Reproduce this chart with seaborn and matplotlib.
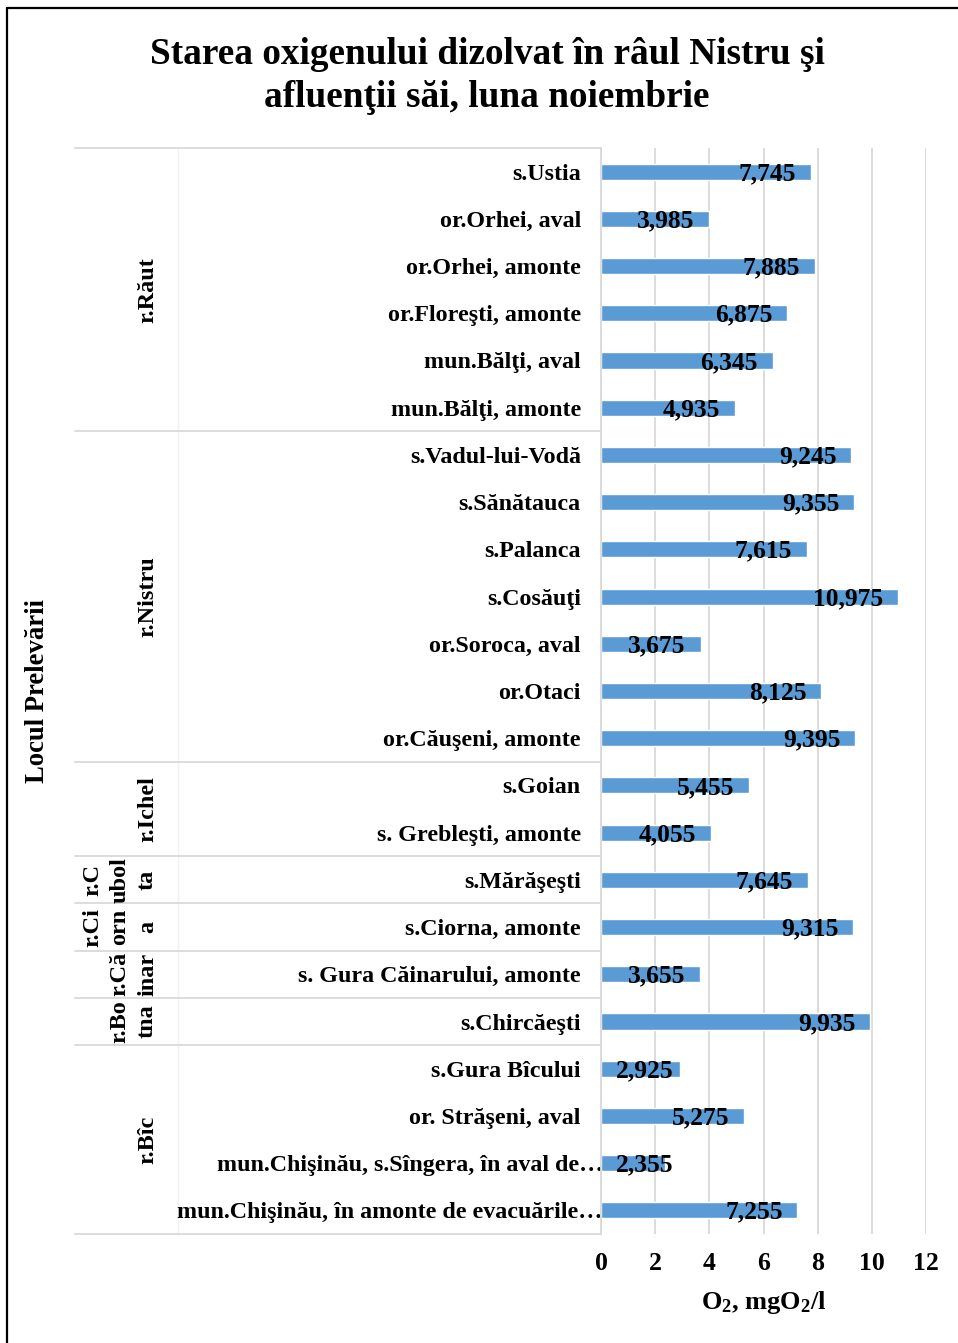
"""
Starea oxigenului dizolvat - horizontal bar chart with grouped categories.
"""

import pandas as pd
import seaborn as sns
import matplotlib.pyplot as plt
from matplotlib.transforms import blended_transform_factory, ScaledTranslation

# ---------------------------------------------------------------------------
# Data
# ---------------------------------------------------------------------------
stations = [
    "s.Ustia", "or.Orhei, aval", "or.Orhei, amonte", "or.Floreşti, amonte",
    "mun.Bălţi, aval", "mun.Bălţi, amonte",
    "s.Vadul-lui-Vodă", "s.Sănătauca", "s.Palanca", "s.Cosăuţi",
    "or.Soroca, aval", "or.Otaci", "or.Căuşeni, amonte",
    "s.Goian", "s. Grebleşti, amonte",
    "s.Mărăşeşti",
    "s.Ciorna, amonte",
    "s. Gura Căinarului, amonte",
    "s.Chircăeşti",
    "s.Gura Bîcului", "or. Străşeni, aval",
    "mun.Chişinău, s.Sîngera, în aval de…",
    "mun.Chişinău, în amonte de evacuările…",
]
oxygen = [
    7.745, 3.985, 7.885, 6.875, 6.345, 4.935,
    9.245, 9.355, 7.615, 10.975, 3.675, 8.125, 9.395,
    5.455, 4.055,
    7.645,
    9.315,
    3.655,
    9.935,
    2.925, 5.275, 2.355, 7.255,
]
rivers = ["r.Răut", "r.Nistru", "r.Ichel", "r.C\nubol\nta", "r.Ci\norn\na",
          "r.Că\ninar", "r.Bo\ntna", "r.Bîc"]
river_sizes = [6, 7, 2, 1, 1, 1, 1, 4]

df = pd.DataFrame({"station": stations, "o2": oxygen})

# ---------------------------------------------------------------------------
# Style
# ---------------------------------------------------------------------------
sns.set_style("white")
plt.rcParams["font.family"] = ["Liberation Serif", "DejaVu Serif"]
plt.rcParams["font.weight"] = "bold"
plt.rcParams["text.color"] = "black"
plt.rcParams["axes.labelcolor"] = "black"
plt.rcParams["xtick.color"] = "black"
plt.rcParams["ytick.color"] = "black"
plt.rcParams["mathtext.fontset"] = "custom"
plt.rcParams["mathtext.rm"] = "Liberation Serif:bold"
plt.rcParams["mathtext.bf"] = "Liberation Serif:bold"
plt.rcParams["mathtext.default"] = "bf"

W, H = 958, 1343
fig = plt.figure(figsize=(W / 100, H / 100), dpi=100)
ax = fig.add_axes([601 / W, 1 - 1234 / H, 325 / W, 1086 / H])

sns.barplot(data=df, x="o2", y="station", orient="h", color="#5B9BD5",
            width=0.34, saturation=1, ax=ax)

ax.set_xlim(0, 12)
ax.set_ylim(len(stations) - 0.5, -0.5)
ax.set_xticks(range(0, 13, 2))
ax.grid(True, axis="x", color="#d9d9d9", linewidth=1.3)
ax.set_axisbelow(True)
for side in ["top", "right", "bottom"]:
    ax.spines[side].set_visible(False)
ax.spines["left"].set_color("#d9d9d9")
ax.spines["left"].set_linewidth(1.3)

ax.tick_params(axis="x", length=0, pad=13, labelsize=18.5)
ax.tick_params(axis="y", length=0, pad=14.5, labelsize=17.3)
for lbl in ax.get_xticklabels() + ax.get_yticklabels():
    lbl.set_fontweight("bold")
# truncated labels run up to the axis line, as in Excel
for lbl in ax.get_yticklabels():
    if lbl.get_text().endswith("…"):
        lbl.set_transform(lbl.get_transform() + ScaledTranslation(0.22, 0, fig.dpi_scale_trans))
ax.set_ylabel("")
ax.set_xlabel(r"O$_2$, mgO$_2$/l", fontsize=19, fontweight="bold", labelpad=10)

# --- value labels (inside end) ---
for i, v in enumerate(oxygen):
    xpos = max(v - 0.55, 2.68)
    ax.text(xpos, i + 0.04, f"{v:.3f}".replace(".", ","), ha="right", va="center",
            fontsize=18.4, fontweight="bold", color="black")

# --- group separators and river labels ---
trans = blended_transform_factory(fig.transFigure, ax.transData)
start = 0
bounds = [-0.5]
for name, n in zip(rivers, river_sizes):
    center = start + (n - 1) / 2
    ax.text(158 / W, center, name, transform=trans, rotation=90,
            ha="right", va="center", multialignment="center",
            fontsize=17.5, fontweight="bold", linespacing=1.4)
    start += n
    bounds.append(start - 0.5)
for b in bounds:
    ax.plot([75 / W, 601 / W], [b, b], transform=trans, color="#d9d9d9",
            linewidth=1.3, clip_on=False)
ax.plot([178 / W, 178 / W], [-0.5, len(stations) - 0.5], transform=trans,
        color="#f2f2f2", linewidth=1, clip_on=False, zorder=0)

# --- title, axis title, frame ---
fig.text(487 / W, 1 - 76 / H,
         "Starea oxigenului dizolvat în râul Nistru şi\nafluenţii săi, luna noiembrie",
         ha="center", va="center", fontsize=26.8, fontweight="bold", linespacing=1.3)
fig.text(38 / W, 1 - 691 / H, "Locul Prelevării", rotation=90, ha="center",
         va="center", fontsize=19.2, fontweight="bold")
fig.add_artist(plt.Line2D([7 / W, 7 / W], [0, 1 - 8 / H], color="black", linewidth=1.6))
fig.add_artist(plt.Line2D([7 / W, 1], [1 - 8 / H, 1 - 8 / H], color="black", linewidth=1.6))

fig.savefig("out.png", dpi=100)
